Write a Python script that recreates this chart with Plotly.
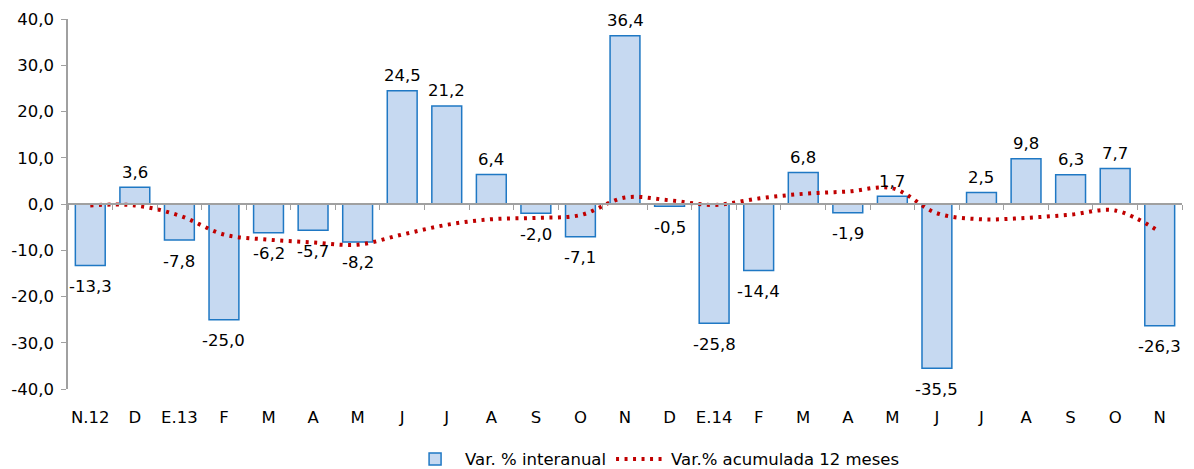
import plotly.graph_objects as go

# meses
meses = ["N.12", "D", "E.13", "F", "M", "A", "M", "J", "J", "A", "S", "O",
         "N", "D", "E.14", "F", "M", "A", "M", "J", "J", "A", "S", "O", "N"]

var_interanual = [-13.3, 3.6, -7.8, -25.0, -6.2, -5.7, -8.2, 24.5, 21.2, 6.4, -2.0, -7.1,
                  36.4, -0.5, -25.8, -14.4, 6.8, -1.9, 1.7, -35.5, 2.5, 9.8, 6.3, 7.7, -26.3]

var_acum12 = [-0.3, -0.3, -2.5, -6.6, -7.7, -8.3, -8.8, -6.6, -4.5, -3.3, -3.0, -2.4,
              1.4, 0.8, -0.2, 1.2, 2.2, 2.7, 3.4, -2.0, -3.3, -3.0, -2.3, -1.4, -6.0]

y_ticks = [-40, -30, -20, -10, 0, 10, 20, 30, 40]

x = list(range(len(meses)))
font = "DejaVu Sans, Arial, sans-serif"
fsize = 16.5
gris = "#A0A0A0"


def coma(v):
    return f"{v:.1f}".replace(".", ",")


fig = go.Figure()
fig.add_trace(go.Bar(
    x=x, y=var_interanual, name="Var. % interanual",
    width=0.67,
    marker=dict(color="#C6D9F1", line=dict(color="#1F78C4", width=1.5)),
))
fig.add_trace(go.Scatter(
    x=x, y=var_acum12, name="Var.% acumulada 12 meses",
    mode="lines", line=dict(color="#C00000", width=4, dash="3px,5.5px", shape="spline"),
))
# dummy trace so the zero axis is drawn
fig.add_trace(go.Scatter(x=[0], y=[0], xaxis="x2", mode="markers",
                         marker=dict(opacity=0), showlegend=False, hoverinfo="skip"))

# etiquetas de datos
for xi, v in zip(x, var_interanual):
    fig.add_annotation(x=xi, y=v, text=coma(v), showarrow=False,
                       yanchor="middle", yshift=15 if v > 0 else -21,
                       font=dict(size=fsize, color="black", family=font))

# page body has an 8px margin, so the figure is a bit smaller than the window
fig.update_layout(
    width=1186, height=461,
    margin=dict(l=60, r=12, t=11, b=80, autoexpand=False),
    plot_bgcolor="white", paper_bgcolor="white",
    font=dict(family=font, size=fsize, color="black"),
    showlegend=True,
    legend=dict(orientation="h", x=0.527, xanchor="center", y=-0.19, yanchor="middle",
                font=dict(size=fsize), itemwidth=50),
    xaxis=dict(range=[-0.5, len(meses) - 0.5], tickvals=x, ticktext=meses,
               showline=False, showgrid=False, zeroline=False, ticks="",
               ticklabelstandoff=16),
    xaxis2=dict(overlaying="x", matches="x", anchor="free", position=0.5,
                showline=True, linecolor=gris, linewidth=1.5,
                tickvals=[i - 0.5 for i in x] + [len(meses) - 0.5],
                ticks="outside", ticklen=5, tickcolor=gris,
                showticklabels=False, showgrid=False, zeroline=False),
    yaxis=dict(range=[-40, 40], tickvals=y_ticks, ticktext=[coma(v) for v in y_ticks],
               showline=True, linecolor=gris, linewidth=1.5,
               ticks="outside", ticklen=5, tickcolor=gris, ticklabelstandoff=4,
               showgrid=False, zeroline=False),
)

fig.write_html("out.html")
